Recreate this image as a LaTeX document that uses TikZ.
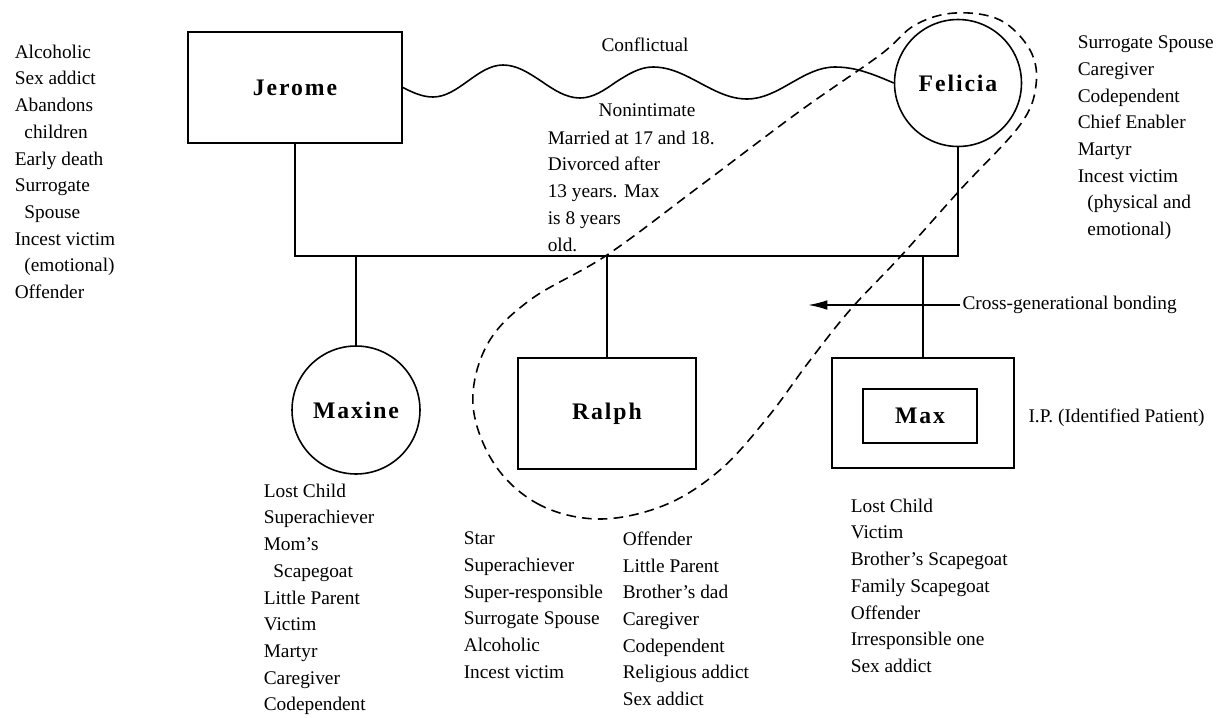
\documentclass[tikz,border=0pt]{standalone}
\usepackage{fontspec}
\setmainfont{Liberation Serif}
\usetikzlibrary{arrows.meta}

\newcommand{\personfont}{\fontsize{13.5}{16}\selectfont\bfseries\addfontfeature{LetterSpace=8}}
\newcommand{\rolefont}{\fontsize{11}{15.2}\selectfont}
\newcommand{\ind}{\hspace*{0.5em}}

\tikzset{
  person/.style={draw, line width=0.9pt, font=\personfont, inner sep=0pt},
  male/.style={person, rectangle, minimum height=2.22cm},
  female/.style={person, circle, minimum size=2.56cm},
  roles/.style={anchor=north west, align=left, inner sep=0pt, font=\rolefont},
  note/.style={inner sep=1pt, font=\rolefont}
}

\begin{document}
\begin{tikzpicture}[x=0.02cm, y=-0.02cm, line width=0.9pt]
\useasboundingbox (0,0) rectangle (1223,717);

% parents
\node[male, minimum width=4.28cm] (jerome) at (295,87.5) {Jerome};
\node[female, minimum size=2.54cm] (felicia) at (958,83) {Felicia};

% children
\node[female] (maxine) at (356,410) {Maxine};
\node[male, minimum width=3.56cm] (ralph) at (607,413.5) {Ralph};
\node[male, minimum width=3.64cm, minimum height=2.2cm] (maxbox) at (923,413) {};
\node[male, minimum width=2.28cm, minimum height=1.08cm] (max) at (920,416) {Max};

% relationship (wavy line)
\draw (jerome.east) sin (433,97) cos (468,81) sin (503,65) cos (541,81)
    sin (580,98) cos (616,82) sin (653,67) cos (700,83)
    sin (747,99) cos (791,83) sin (835,67) cos (felicia.west);
\node[note] (conflict) at (645,45) {Conflictual};
\node[note] (nonint) at (647,110) {Nonintimate};
\node[roles] (married) at (547,130) {Married at 17 and 18.\\Divorced after\\13 years. Max\\is 8 years\\old.};

% marriage line and children
\coordinate (bar) at (0,256);
\draw (jerome.south) -- (jerome.south |- bar) -- (felicia.south |- bar) -- (felicia.south);
\draw (maxine.north |- bar) -- (maxine.north);
\draw (ralph.north |- bar) -- (ralph.north);
\draw (maxbox.north |- bar) -- (maxbox.north);

% Felicia - Ralph bond
\draw[dash pattern=on 5.5pt off 3.5pt] plot[smooth cycle, tension=0.6] coordinates {
    (600,519) (540,505) (495,465) (473,405) (487,345) (530,300) (607,255)
    (700,186) (800,111) (880,55) (915,25) (955,13) (1000,20) (1030,50)
    (1036,85) (1020,125) (960,190) (900,257) (850,310) (808,363)
    (768,417) (720,470) (665,505)};

\node[note, anchor=west] (cgb) at (960,305) {Cross-generational bonding};
\coordinate (cgbtip) at (808,305);
\draw[-{Latex[length=11pt,width=5.5pt]}] (cgb.west) -- (cgbtip);

\node[note, anchor=west] (ip) at (1026,418) {I.P. (Identified Patient)};

% roles
\node[roles] (jroles) at (14,44) {Alcoholic\\Sex addict\\Abandons\\\ind children\\Early death\\Surrogate\\\ind Spouse\\Incest victim\\\ind (emotional)\\Offender};
\node[roles] (froles) at (1077,35) {Surrogate Spouse\\Caregiver\\Codependent\\Chief Enabler\\Martyr\\Incest victim\\\ind (physical and\\\ind emotional)};
\node[roles] (mxroles) at (263,483) {Lost Child\\Superachiever\\Mom's\\\ind Scapegoat\\Little Parent\\Victim\\Martyr\\Caregiver\\Codependent};
\node[roles] (rroles) at (463,531) {Star\\Superachiever\\Super-responsible\\Surrogate Spouse\\Alcoholic\\Incest victim};
\node[roles] (rroles2) at (622,531) {Offender\\Little Parent\\Brother's dad\\Caregiver\\Codependent\\Religious addict\\Sex addict};
\node[roles] (maxroles) at (850,498) {Lost Child\\Victim\\Brother's Scapegoat\\Family Scapegoat\\Offender\\Irresponsible one\\Sex addict};

\end{tikzpicture}
\end{document}
